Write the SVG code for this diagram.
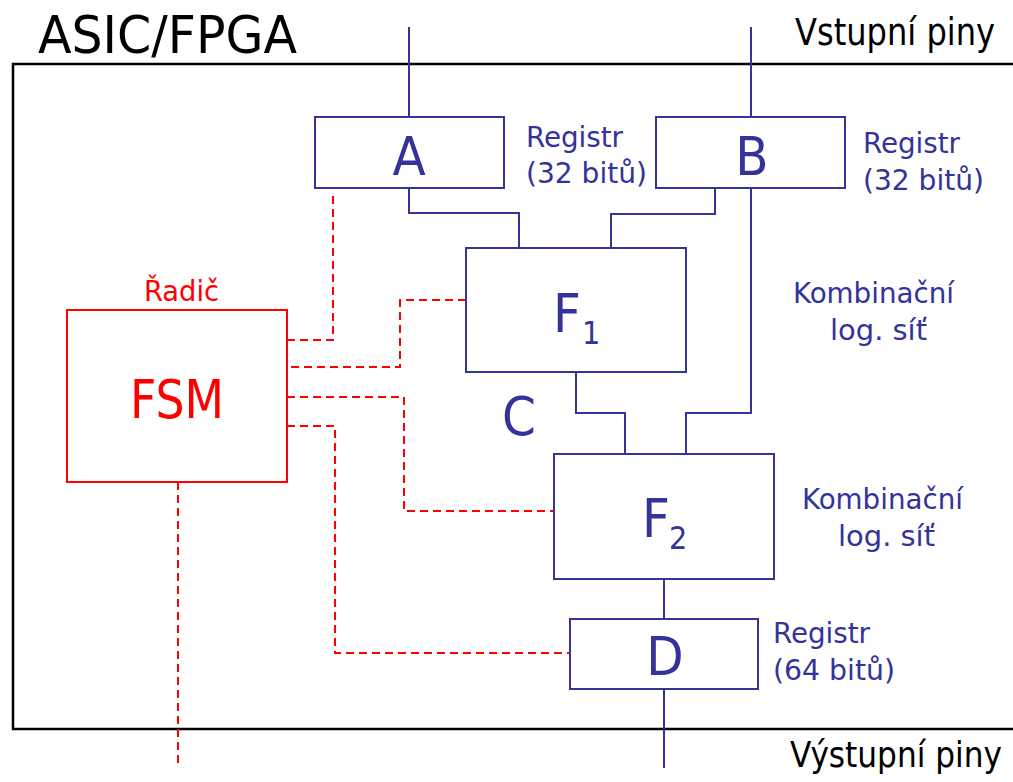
<svg xmlns="http://www.w3.org/2000/svg" width="1013" height="782" viewBox="0 0 1013 782">
<style>
text{font-family:"DejaVu Sans Condensed","DejaVu Sans","Liberation Sans",sans-serif}
.box{fill:#fff;stroke:#333399;stroke-width:2}
.rbox{fill:#fff;stroke:#ff0000;stroke-width:2}
.wire{fill:none;stroke:#333399;stroke-width:2}
.ctl{fill:none;stroke:#ff0000;stroke-width:2;stroke-dasharray:8,5}
.big{fill:#333399;font-size:54px}
.lbl{fill:#333399;font-size:29px}
.blk{fill:#000;font-size:37px}
</style>
<rect x="13" y="64" width="1010" height="665" fill="#fff" stroke="#000" stroke-width="2.5"/>
<text x="38" y="53" style="font-size:52px" fill="#000" textLength="259" lengthAdjust="spacingAndGlyphs">ASIC/FPGA</text>
<text class="blk" x="795" y="45" textLength="200" lengthAdjust="spacingAndGlyphs">Vstupní piny</text>
<text class="blk" x="790" y="767" style="font-size:35px" textLength="212" lengthAdjust="spacingAndGlyphs">Výstupní piny</text>
<g id="connectors">
<path class="wire" d="M409,27 V117"/>
<path class="wire" d="M751,27 V117"/>
<path class="wire" d="M409,188 V213 H519 V248"/>
<path class="wire" d="M715,188 V214 H611 V248"/>
<path class="wire" d="M751,188 V413 H686 V454"/>
<path class="wire" d="M576,372 V413 H625 V454"/>
<path class="wire" d="M664,579 V619"/>
<path class="wire" d="M664,689 V768"/>
<path class="ctl" d="M333,196 V340 H287"/>
<path class="ctl" d="M466,300 H400 V367 H287"/>
<path class="ctl" d="M287,397 H404 V511 H554"/>
<path class="ctl" d="M287,426 H335 V653 H570"/>
<path class="ctl" d="M178,482 V768"/>
</g>
<g id="A">
<rect class="box" x="315" y="117" width="189" height="71"/>
<text class="big" x="409" y="175" text-anchor="middle">A</text>
<text class="lbl" x="526" y="147" textLength="97" lengthAdjust="spacingAndGlyphs">Registr</text>
<text class="lbl" x="526" y="183" textLength="121" lengthAdjust="spacingAndGlyphs">(32 bitů)</text>
</g>
<g id="B">
<rect class="box" x="656" y="117" width="189" height="71"/>
<text class="big" x="752" y="175" text-anchor="middle">B</text>
<text class="lbl" x="863" y="153" textLength="97" lengthAdjust="spacingAndGlyphs">Registr</text>
<text class="lbl" x="863" y="190" textLength="121" lengthAdjust="spacingAndGlyphs">(32 bitů)</text>
</g>
<g id="F1">
<rect class="box" x="466" y="248" width="220" height="124"/>
<text class="big" x="553" y="332">F</text>
<text class="big" x="582" y="344" style="font-size:32px">1</text>
<text class="lbl" x="793" y="303" textLength="161" lengthAdjust="spacingAndGlyphs">Kombinační</text>
<text class="lbl" x="830" y="340" textLength="97" lengthAdjust="spacingAndGlyphs">log. síť</text>
</g>
<g id="C">
<text class="big" x="502" y="435">C</text>
</g>
<g id="F2">
<rect class="box" x="554" y="454" width="220" height="125"/>
<text class="big" x="642" y="537">F</text>
<text class="big" x="669" y="549" style="font-size:32px">2</text>
<text class="lbl" x="802" y="509" textLength="161" lengthAdjust="spacingAndGlyphs">Kombinační</text>
<text class="lbl" x="838" y="546" textLength="97" lengthAdjust="spacingAndGlyphs">log. síť</text>
</g>
<g id="D">
<rect class="box" x="570" y="619" width="188" height="70"/>
<text class="big" x="665" y="675" text-anchor="middle">D</text>
<text class="lbl" x="773" y="643" textLength="97" lengthAdjust="spacingAndGlyphs">Registr</text>
<text class="lbl" x="773" y="680" textLength="122" lengthAdjust="spacingAndGlyphs">(64 bitů)</text>
</g>
<g id="FSM">
<rect class="rbox" x="67" y="310" width="220" height="172"/>
<text x="177" y="418" text-anchor="middle" fill="#ff0000" style="font-size:54px" textLength="94" lengthAdjust="spacingAndGlyphs">FSM</text>
<text x="144" y="301" fill="#ff0000" style="font-size:28px" textLength="75" lengthAdjust="spacingAndGlyphs">Řadič</text>
</g>
</svg>
